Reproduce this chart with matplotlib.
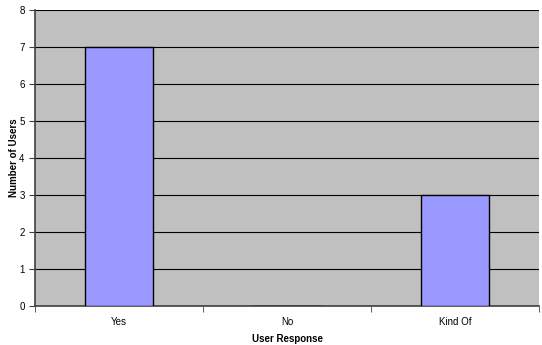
import matplotlib.pyplot as plt
import numpy as np

categories = ["Yes", "No", "Kind Of"]
users = [7, 0, 3]

plt.rcParams["font.family"] = ["Liberation Sans", "DejaVu Sans"]

fig = plt.figure(figsize=(5.42, 3.45), dpi=100)
ax = fig.add_axes([35 / 542, 39 / 345, 504 / 542, 296 / 345])
ax.set_facecolor("#c0c0c0")

x = np.arange(len(categories))
ax.bar(x, users, width=0.4, color="#9999ff", edgecolor="black", linewidth=1, zorder=3)

ax.set_xlim(-0.5, len(categories) - 0.5)
ax.set_ylim(0, 8)
ax.set_yticks(range(0, 9))
ax.yaxis.grid(True, color="black", linewidth=0.8, zorder=0)
ax.set_axisbelow(True)

ax.set_xticks(x)
ax.set_xticklabels(categories)
ax.set_xticks(np.arange(-0.5, len(categories)), minor=True)
ax.tick_params(axis="x", which="major", length=0, labelsize=7, pad=8)
ax.tick_params(axis="x", which="minor", length=4, direction="out", color="#404040")
ax.tick_params(axis="y", length=4, direction="out", labelsize=7, color="#404040")

for side in ["top", "right"]:
    ax.spines[side].set_visible(False)
ax.spines["left"].set_color("#404040")
ax.spines["bottom"].set_color("#404040")
ax.spines["left"].set_linewidth(1.2)
ax.spines["bottom"].set_linewidth(1.2)

ax.set_xlabel("User Response", fontsize=7, fontweight="bold", labelpad=5)
ax.set_ylabel("Number of Users", fontsize=7, fontweight="bold", labelpad=0)

fig.savefig("out.png", dpi=100)
